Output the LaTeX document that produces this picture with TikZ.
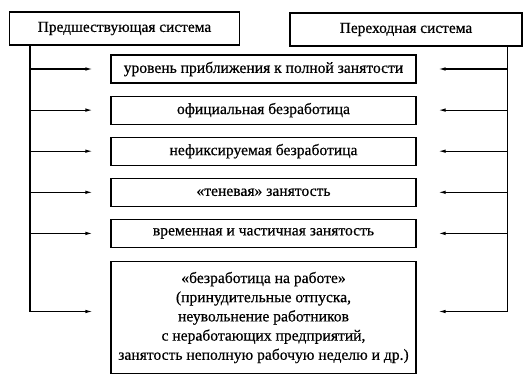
\documentclass[tikz,border=0pt]{standalone}
\usepackage{fontspec}
\setmainfont{Liberation Serif}[UprightFeatures={FakeBold=0.5}]
\usetikzlibrary{arrows.meta,positioning}

\begin{document}
\begin{tikzpicture}[x=1pt, y=-1pt,
  head/.style={draw, line width=1.1pt, minimum width=230pt, minimum height=33pt, font=\fontsize{15.4}{17}\selectfont},
  item/.style={draw, line width=1.1pt, minimum width=305pt, minimum height=28pt, align=center, font=\fontsize{15.6}{19.2}\selectfont},
  arrow/.style={-{Latex[length=7pt,width=3.5pt]}, line width=1.1pt}
]
\useasboundingbox (0,0) rectangle (531,381);
\node[head] (pred) at (124.5,28.5) {Предшествующая система\hspace{12pt}};
\node[head, minimum width=232pt] (pere) at (406,29.5) {Переходная система};

\node[item] (b1) at (263.5,69) {уровень приближения к полной занятости};
\node[item, below=12pt of b1] (b2) {официальная безработица};
\node[item, below=12pt of b2] (b3) {нефиксируемая безработица};
\node[item, below=12pt of b3] (b4) {«теневая» занятость};
\node[item, below=12pt of b4] (b5) {временная и частичная занятость};
\node[item, below=13pt of b5, minimum height=112pt] (b6) {«безработица на работе»\\(принудительные отпуска,\\неувольнение работников\\с неработающих предприятий,\\занятость неполную рабочую неделю и др.)};

\foreach \b in {b1,b2,b3,b4,b5} {
  \draw[arrow] ([xshift=21pt]pred.south west |- \b.west) -- ([xshift=-18pt]\b.west);
  \draw[arrow] ([xshift=-15pt]pere.south east |- \b.east) -- ([xshift=22pt]\b.east);
}
\draw[arrow] ([xshift=21pt]pred.south west) |- ([xshift=-18pt,yshift=6pt]b6.west);
\draw[arrow] ([xshift=-15pt]pere.south east) |- ([xshift=22pt,yshift=6pt]b6.east);
\end{tikzpicture}
\end{document}
